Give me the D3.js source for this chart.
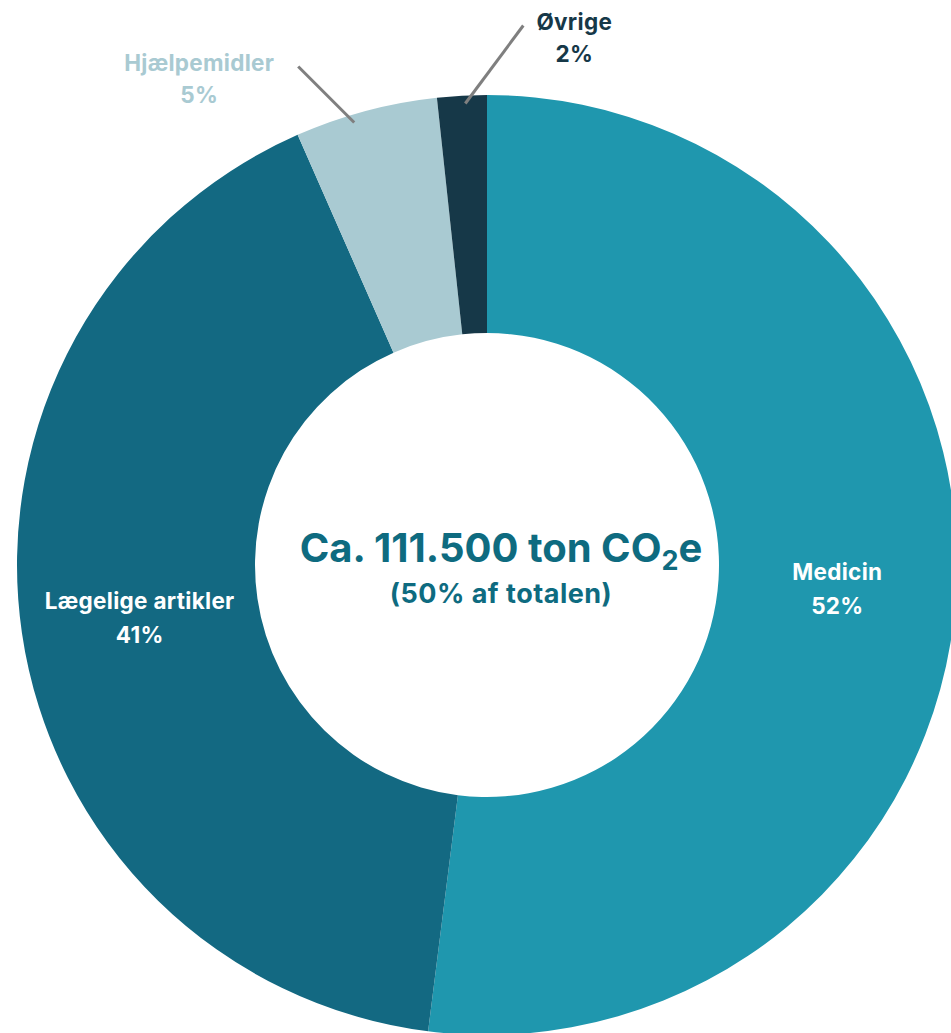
<!DOCTYPE html>
<html>
<head>
<meta charset="utf-8">
<script src="https://cdn.jsdelivr.net/npm/d3@7"></script>
<style>
  body { margin: 0; background: #fff; }
  svg { display: block; font-family: Inter, "Open Sans", sans-serif; }
</style>
</head>
<body>
<script>
// Data
var categories = ["Medicin", "Lægelige artikler", "Hjælpemidler", "Øvrige"];
var shares = [52.0, 41.4, 4.9, 1.7];
var sliceColors = ["#1f97ae", "#136982", "#a9cad2", "#163848"];
var centerTitle = "Ca. 111.500 ton CO";
var centerSub = "(50% af totalen)";

var width = 951, height = 1033;
var cx = 487, cy = 565;
var outerR = 470, innerR = 232;

var svg = d3.select("body").append("svg")
    .attr("width", width)
    .attr("height", height);

var data = categories.map(function(c, i) {
  return { name: c, value: shares[i], color: sliceColors[i] };
});

var pie = d3.pie().sort(null).value(function(d) { return d.value; });
var arc = d3.arc().innerRadius(innerR).outerRadius(outerR);

var g = svg.append("g").attr("transform", "translate(" + cx + "," + cy + ")");
var arcs = pie(data);

g.selectAll("path.slice")
  .data(arcs)
  .enter()
  .append("path")
  .attr("class", "slice")
  .attr("d", arc)
  .attr("fill", function(d) { return d.data.color; });

// big slices: label inside at centroid
var inside = arcs.filter(function(d) { return d.data.value > 10; });
var insideLabels = g.selectAll("text.inlabel")
  .data(inside)
  .enter()
  .append("text")
  .attr("class", "inlabel")
  .attr("text-anchor", "middle")
  .attr("fill", "#fff")
  .attr("font-size", 22.5)
  .attr("letter-spacing", 0.3)
  .attr("font-weight", 700)
  .attr("transform", function(d) {
    var c = arc.centroid(d);
    return "translate(" + c[0] + "," + c[1] + ")";
  });
insideLabels.append("tspan").attr("x", 0).attr("y", -7).text(function(d) { return d.data.name; });
insideLabels.append("tspan").attr("x", 0).attr("y", 27).text(function(d) { return Math.round(d.data.value) + "%"; });

// small slices: label outside with a leader line
// [fraction along slice, line dx, line dy, text dx]
var leaderLayout = { "Hjælpemidler": [0.4, -56, -56, -99], "Øvrige": [0.56, 58, -78, 51] };
var outside = arcs.filter(function(d) { return d.data.value <= 10; });
outside.forEach(function(d) {
  var lay = leaderLayout[d.data.name];
  var a = d.startAngle + (d.endAngle - d.startAngle) * lay[0];
  var r0 = outerR - 8;
  var x0 = Math.sin(a) * r0, y0 = -Math.cos(a) * r0;
  var x1 = x0 + lay[1], y1 = y0 + lay[2];
  g.append("line")
    .attr("x1", x0).attr("y1", y0)
    .attr("x2", x1).attr("y2", y1)
    .attr("stroke", "#7f7f7f")
    .attr("stroke-width", 3);
  var t = g.append("text")
    .attr("text-anchor", "middle")
    .attr("fill", d.data.color)
    .attr("font-size", 22.5)
    .attr("letter-spacing", 0.3)
    .attr("font-weight", 700);
  t.append("tspan").attr("x", x1 + lay[3]).attr("y", y1 + 4).text(d.data.name);
  t.append("tspan").attr("x", x1 + lay[3]).attr("y", y1 + 36).text(Math.round(d.data.value) + "%");
});

// center text
var title = g.append("text")
  .attr("text-anchor", "middle")
  .attr("x", 14).attr("y", -3)
  .attr("fill", "#0e6b80")
  .attr("font-size", 40)
  .attr("font-weight", 700);
title.append("tspan").text(centerTitle);
title.append("tspan").attr("font-size", 27).attr("dy", 8).text("2");
title.append("tspan").attr("dy", -8).text("e");

g.append("text")
  .attr("text-anchor", "middle")
  .attr("x", 14).attr("y", 38)
  .attr("fill", "#0e6b80")
  .attr("font-size", 27)
  .attr("letter-spacing", 0.5)
  .attr("font-weight", 700)
  .text(centerSub);
</script>
</body>
</html>
